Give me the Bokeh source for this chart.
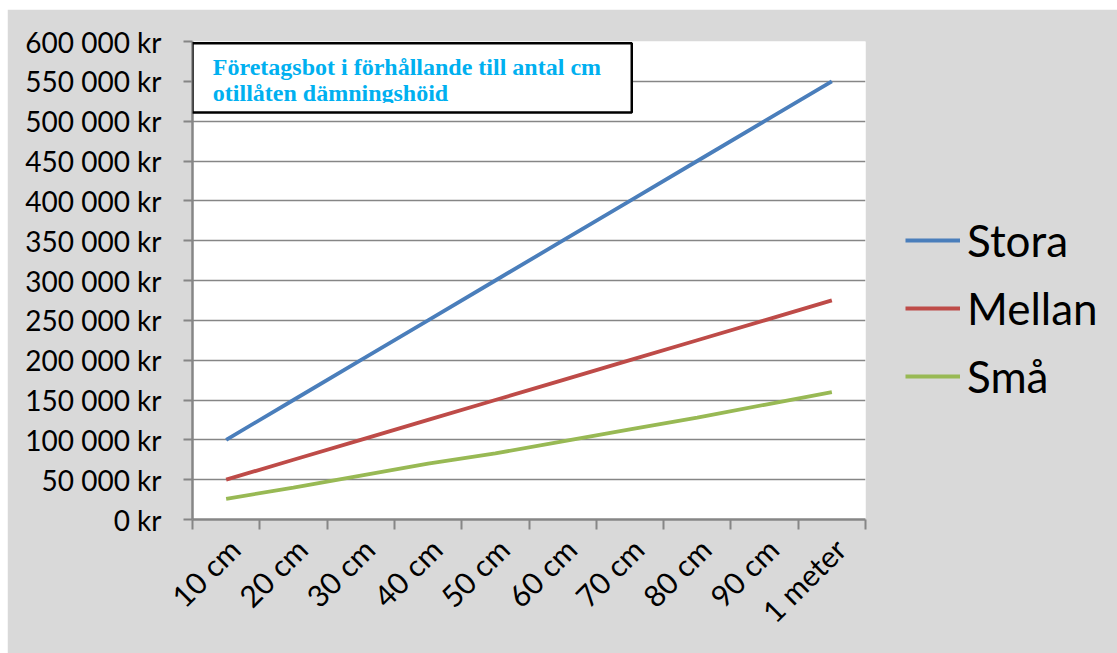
from math import pi
from bokeh.plotting import figure
from bokeh.models import (Range1d, FixedTicker, Legend, LegendItem,
                          BoxAnnotation, Label)
from bokeh.embed import file_html
from bokeh.resources import INLINE

# ---------------- data ----------------
categories = ["10 cm", "20 cm", "30 cm", "40 cm", "50 cm",
              "60 cm", "70 cm", "80 cm", "90 cm", "1 meter"]
stora = [100000, 150000, 200000, 250000, 300000,
         350000, 400000, 450000, 500000, 550000]
mellan = [50000, 75000, 100000, 125000, 150000,
          175000, 200000, 225000, 250000, 275000]
sma = [26000, 40000, 55000, 70000, 83000,
       98000, 113000, 128000, 144000, 160000]
series_names = ["Stora", "Mellan", "Små"]
series_colors = ["#4A7EBB", "#BE4B48", "#98B954"]
y_ticks = [0, 50000, 100000, 150000, 200000, 250000, 300000,
           350000, 400000, 450000, 500000, 550000, 600000]
y_tick_labels = ["0 kr", "50 000 kr", "100 000 kr", "150 000 kr", "200 000 kr",
                 "250 000 kr", "300 000 kr", "350 000 kr", "400 000 kr",
                 "450 000 kr", "500 000 kr", "550 000 kr", "600 000 kr"]
title_lines = ["Företagsbot i förhållande till antal cm",
               "otillåten dämningshöid"]

# ---------------- figure ----------------
n = len(categories)
xs = [i + 0.5 for i in range(n)]
label_pos = [x + 0.12 for x in xs]

p = figure(frame_width=673, frame_height=478, output_backend="svg",
           toolbar_location=None,
           x_range=Range1d(0, n), y_range=Range1d(0, 600000),
           min_border_left=185, min_border_right=252,
           min_border_top=32, min_border_bottom=134)
p.margin = (9, 0, 0, 7)
p.background_fill_color = "white"
p.border_fill_color = "#D9D9D9"
p.outline_line_color = None

AX = "#868686"
FONT = "Lato"

# y axis
yax = p.yaxis[0]
yax.ticker = FixedTicker(ticks=y_ticks, minor_ticks=[])
yax.major_label_overrides = {t: l for t, l in zip(y_ticks, y_tick_labels)}
yax.axis_line_color = AX
yax.axis_line_width = 2.5
yax.major_tick_line_color = AX
yax.major_tick_line_width = 2
yax.major_tick_in = 0
yax.major_tick_out = 9
yax.minor_tick_line_color = None
yax.major_label_standoff = 22
yax.major_label_text_font = FONT
yax.major_label_text_font_size = "28px"
yax.major_label_text_color = "black"

# x axis
xax = p.xaxis[0]
xax.ticker = FixedTicker(ticks=label_pos, minor_ticks=list(range(n + 1)))
xax.major_label_overrides = {x: c for x, c in zip(label_pos, categories)}
xax.major_label_orientation = pi / 4
xax.axis_line_color = AX
xax.axis_line_width = 2.5
xax.major_tick_line_color = None
xax.minor_tick_line_color = AX
xax.minor_tick_line_width = 2
xax.minor_tick_in = 0
xax.minor_tick_out = 10
xax.major_label_standoff = 14
xax.major_label_text_font = FONT
xax.major_label_text_font_size = "30px"
xax.major_label_text_color = "black"

# grid
p.xgrid.grid_line_color = None
p.ygrid.ticker = FixedTicker(ticks=y_ticks)
p.ygrid.grid_line_color = AX
p.ygrid.grid_line_width = 1.6

# lines
renderers = []
for vals, col in zip([stora, mellan, sma], series_colors):
    r = p.line(xs, vals, line_color=col, line_width=3.8)
    renderers.append(r)

legend = Legend(items=[LegendItem(label=nm, renderers=[r])
                       for nm, r in zip(series_names, renderers)],
                location=(40, 115))
legend.background_fill_alpha = 0
legend.border_line_color = None
legend.padding = 0
legend.margin = 0
legend.spacing = 12
legend.glyph_width = 55
legend.glyph_height = 56
legend.label_height = 56
legend.label_standoff = 7
legend.label_text_font = FONT
legend.label_text_font_size = "44px"
legend.label_text_color = "black"
p.add_layout(legend, "right")

# title box
box_fill = BoxAnnotation(left=0, right=6.527, top=597900, bottom=510900,
                         fill_color="white", fill_alpha=1, line_color=None)
p.add_layout(box_fill)
for line_txt, yv in zip(title_lines, [568600, 535100]):
    p.add_layout(Label(x=0.302, y=yv, text=line_txt, text_font="Liberation Serif",
                       text_font_style="bold", text_font_size="24px",
                       text_color="#00B0F0", text_baseline="alphabetic"))
cover = BoxAnnotation(left=0.02, right=6.5, top=522800, bottom=512000,
                      fill_color="white", fill_alpha=1, line_color=None)
p.add_layout(cover)
box_line = BoxAnnotation(left=0, right=6.527, top=597900, bottom=510900,
                         fill_alpha=0, line_color="black", line_alpha=1,
                         line_width=2.5)
p.add_layout(box_line)

open("out.html", "w").write(file_html(p, INLINE))
